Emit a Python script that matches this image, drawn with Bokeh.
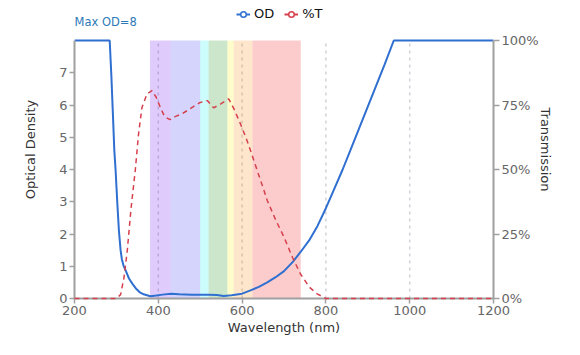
from bokeh.plotting import figure
from bokeh.models import (Range1d, LinearAxis, FixedTicker, PrintfTickFormatter,
                          Legend, LegendItem, Label, ColumnDataSource)
from bokeh.embed import file_html
from bokeh.resources import INLINE

# ---- data ----
wl_od = [200, 284, 288, 292, 295, 298, 302, 306, 310, 313, 317, 322, 330, 338, 346, 355,
         365, 381, 395, 410, 430, 450, 480, 520, 540, 556, 575, 600, 620, 640, 660,
         680, 700, 720, 740, 760, 780, 800, 820, 840, 860, 880, 900, 920, 940, 962, 1200]
od = [8, 8, 6.9, 5.6, 4.6, 4.0, 3.0, 2.1, 1.5, 1.22, 1.02, 0.87, 0.62, 0.46, 0.32, 0.2,
      0.13, 0.07, 0.09, 0.12, 0.15, 0.13, 0.12, 0.12, 0.11, 0.08, 0.1, 0.15, 0.25, 0.36, 0.5,
      0.66, 0.85, 1.12, 1.45, 1.8, 2.25, 2.8, 3.4, 4.0, 4.65, 5.3, 5.95, 6.6, 7.25, 8, 8]

wl_t = [200, 300, 310, 318, 326, 335, 345, 353, 361, 373, 385, 395, 405, 415, 428,
        440, 457, 480, 500, 517, 532, 550, 568, 582, 596, 610, 620, 636, 650, 660,
        680, 700, 720, 739, 760, 779, 800, 1200]
t_pct = [0, 0, 1.5, 8, 18.6, 35, 49.6, 64, 74, 79.3, 80.6, 78, 74, 70.5, 69.3,
         70.5, 71.6, 74, 76, 76.7, 73.9, 75.5, 77.4, 73, 67.7, 62, 57.4, 49.6, 43, 38,
         30.5, 23.8, 16, 9.6, 4.5, 1.8, 0, 0]

band_start = [380, 430, 500, 520, 565, 580, 625]
band_end = [430, 500, 520, 565, 580, 625, 740]
band_color = ["#6400f0", "#2828f0", "#00f0f0", "#008200", "#fff000", "#f58200", "#f00000"]

od_max = 8
t_max = 100
od_ticks = [0, 1, 2, 3, 4, 5, 6, 7]
t_ticks = [0, 25, 50, 75, 100]
x_ticks = [200, 400, 600, 800, 1000, 1200]
grid_ticks = [400, 600, 800, 1000]

FONT = "DejaVu Sans"
TICK_COLOR = "#666666"
LABEL_COLOR = "#333333"
AXIS_COLOR = "#a0a0a0"
NAN = float("nan")

# frame spans the full top area so the legend/label above the data are not clipped;
# the axes are bounded to the data extent (0..8 / 0..100%)
FRAME_TOP_PX = 298.0
DATA_TOP_PX = 258.0
scale = FRAME_TOP_PX / DATA_TOP_PX

p = figure(width=580, height=355, output_backend="svg", toolbar_location=None,
           x_range=Range1d(200, 1200), y_range=Range1d(0, od_max * scale),
           min_border_left=74, min_border_right=87, min_border_top=0, min_border_bottom=57)
p.outline_line_color = None
p.extra_y_ranges = {"T": Range1d(0, t_max * scale)}

# vertical dotted grid lines (bounded to the data area)
p.ygrid.visible = False
p.xgrid.visible = False
p.segment(x0=grid_ticks, y0=0, x1=grid_ticks, y1=od_max, line_color="#cfd2d8",
          line_dash="3 4", line_width=1.5)

# bands
p.quad(left=band_start, right=band_end, bottom=0, top=od_max, fill_color=band_color,
       fill_alpha=0.2, line_color=None)

# curves
od_line = p.line(wl_od, od, line_color="#2f6fd0", line_width=2)
t_line = p.line(wl_t, t_pct, y_range_name="T", line_color="#d6404c", line_width=1.5,
                line_dash="5 4", level="overlay")

# legend-only glyphs (no visible data)
dummy1 = ColumnDataSource(data=dict(x=[NAN], y=[NAN]))
dummy2 = ColumnDataSource(data=dict(x=[NAN], y=[NAN]))
od_mark = p.scatter("x", "y", source=dummy1, size=6, fill_color="white",
                    line_color="#2f6fd0", line_width=1.5)
t_leg_line = p.line("x", "y", source=dummy2, line_color="#d6404c", line_width=2)
t_mark = p.scatter("x", "y", source=dummy2, size=6, fill_color="white",
                   line_color="#d6404c", line_width=1.5)

legend = Legend(items=[LegendItem(label="OD", renderers=[od_line, od_mark]),
                       LegendItem(label="%T", renderers=[t_leg_line, t_mark])],
                location=(162, 277), orientation="horizontal",
                border_line_color=None, background_fill_alpha=0,
                padding=0, margin=0, spacing=10, glyph_width=14, glyph_height=14,
                label_height=14, label_standoff=4,
                label_text_font=FONT, label_text_font_size="13px",
                label_text_color="#111111")
p.add_layout(legend, "center")


def style_axis(ax, tick_out):
    ax.axis_line_color = AXIS_COLOR
    ax.axis_line_width = 2
    ax.major_tick_line_color = AXIS_COLOR
    ax.major_tick_line_width = 1.5
    ax.major_tick_out = tick_out
    ax.major_tick_in = 0
    ax.minor_tick_line_color = None
    ax.major_label_text_font = FONT
    ax.major_label_text_font_size = "13px"
    ax.major_label_text_color = TICK_COLOR
    ax.major_label_standoff = 2
    ax.axis_label_text_font = FONT
    ax.axis_label_text_font_size = "13px"
    ax.axis_label_text_font_style = "normal"
    ax.axis_label_text_color = LABEL_COLOR


# x axis
xa = p.xaxis[0]
xa.ticker = FixedTicker(ticks=x_ticks)
xa.axis_label = "Wavelength (nm)"
style_axis(xa, 5)
xa.axis_label_standoff = 2

# left axis
ya = p.yaxis[0]
ya.ticker = FixedTicker(ticks=od_ticks)
ya.bounds = (0, od_max)
ya.axis_label = "Optical Density"
style_axis(ya, 5)
ya.axis_label_standoff = 18

# right axis
ra = LinearAxis(y_range_name="T", ticker=FixedTicker(ticks=t_ticks),
                formatter=PrintfTickFormatter(format="%d%%"),
                axis_label="Transmission", bounds=(0, t_max))
style_axis(ra, 6)
ra.axis_label_standoff = -4
p.add_layout(ra, "right")

# Max OD label
p.add_layout(Label(x=0, y=277, x_units="screen", y_units="screen", text="Max OD=8",
                   text_font=FONT, text_font_size="11.5px", text_color="#2e7ab8",
                   text_baseline="middle", text_align="left"))

open("out.html", "w").write(file_html(p, INLINE))
